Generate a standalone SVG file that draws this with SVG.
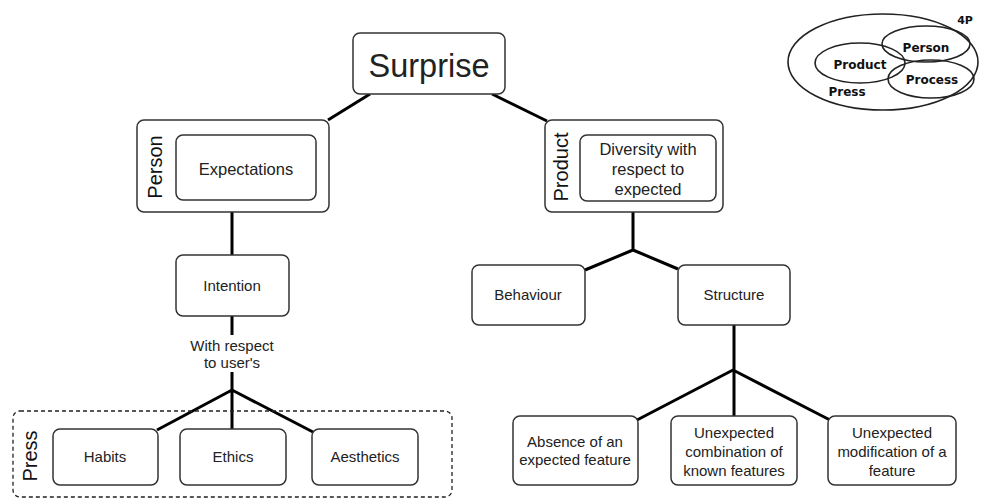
<svg xmlns="http://www.w3.org/2000/svg" width="981" height="499" viewBox="0 0 981 499">
<style>
.box{fill:#fff;stroke:#333;stroke-width:1.5}
.t{font-family:"Liberation Sans",Arial,sans-serif;font-size:15px;fill:#222;text-anchor:middle}
.lab{font-family:"Liberation Sans",Arial,sans-serif;font-size:20px;fill:#111;text-anchor:middle}
.con{stroke:#000;stroke-width:3;fill:none;stroke-linejoin:round}
.ell{fill:none;stroke:#222;stroke-width:1.6}
.v{font-family:"DejaVu Sans",Verdana,sans-serif;font-weight:bold;font-size:12px;fill:#111;text-anchor:middle}
</style>
<rect width="981" height="499" fill="#fff"/>
<g id="connectors">
<path class="con" d="M370,94 L328,120"/>
<path class="con" d="M492,94 L547,121"/>
<path class="con" d="M232,212 L232,255"/>
<path class="con" d="M232,316 L232,335"/>
<path class="con" d="M232,372 L232,430 M157,430 L232,390 L313,432"/>
<path class="con" d="M633,212 L633,250 M585,270 L633,250 L678,269"/>
<path class="con" d="M734,325 L734,417 M637,420 L733,370 L830,420"/>
</g>
<g id="surprise">
<rect class="box" x="353" y="33" width="152" height="61" rx="7"/>
<text class="t" x="429" y="77" style="font-size:32.5px">Surprise</text>
</g>
<g id="person">
<rect class="box" x="137" y="120" width="192" height="92" rx="7"/>
<text class="lab" transform="translate(162,167) rotate(-90)">Person</text>
</g>
<g id="expectations">
<rect class="box" x="176" y="135" width="140" height="65" rx="7"/>
<text class="t" x="246" y="175" style="font-size:16.5px">Expectations</text>
</g>
<g id="product">
<rect class="box" x="545" y="120" width="178" height="92" rx="7"/>
<text class="lab" transform="translate(568,167) rotate(-90)">Product</text>
</g>
<g id="diversity">
<rect class="box" x="580" y="135" width="136" height="66" rx="7"/>
<text class="t" style="font-size:16.5px"><tspan x="648" y="155">Diversity with</tspan><tspan x="648" y="175">respect to</tspan><tspan x="648" y="195">expected</tspan></text>
</g>
<g id="intention">
<rect class="box" x="176" y="255" width="113" height="61" rx="7"/>
<text class="t" x="232" y="291">Intention</text>
</g>
<g id="withrespect">
<text class="t"><tspan x="232" y="351">With respect</tspan><tspan x="232" y="368">to user's</tspan></text>
</g>
<g id="press">
<rect x="13" y="411" width="439" height="86" rx="7" fill="none" stroke="#222" stroke-width="1.3" stroke-dasharray="4,3"/>
<text class="lab" transform="translate(37,456) rotate(-90)">Press</text>
</g>
<g id="habits">
<rect class="box" x="53" y="429" width="105" height="56" rx="7"/>
<text class="t" x="105" y="462">Habits</text>
</g>
<g id="ethics">
<rect class="box" x="180" y="429" width="106" height="56" rx="7"/>
<text class="t" x="233" y="462">Ethics</text>
</g>
<g id="aesthetics">
<rect class="box" x="312" y="429" width="106" height="56" rx="7"/>
<text class="t" x="365" y="462">Aesthetics</text>
</g>
<g id="behaviour">
<rect class="box" x="472" y="265" width="113" height="60" rx="7"/>
<text class="t" x="528" y="300">Behaviour</text>
</g>
<g id="structure">
<rect class="box" x="678" y="265" width="112" height="60" rx="7"/>
<text class="t" x="734" y="300">Structure</text>
</g>
<g id="absence">
<rect class="box" x="513" y="416" width="125" height="69" rx="7"/>
<text class="t"><tspan x="575" y="447">Absence of an</tspan><tspan x="575" y="465">expected feature</tspan></text>
</g>
<g id="combination">
<rect class="box" x="671" y="416" width="126" height="69" rx="7"/>
<text class="t"><tspan x="734" y="438">Unexpected</tspan><tspan x="734" y="457">combination of</tspan><tspan x="734" y="476">known features</tspan></text>
</g>
<g id="modification">
<rect class="box" x="828" y="416" width="128" height="69" rx="7"/>
<text class="t"><tspan x="892" y="438">Unexpected</tspan><tspan x="892" y="457">modification of a</tspan><tspan x="892" y="476">feature</tspan></text>
</g>
<g id="fourP">
<ellipse class="ell" cx="883" cy="62" rx="95" ry="48"/>
<ellipse class="ell" cx="926" cy="44" rx="44" ry="18"/>
<ellipse class="ell" cx="860" cy="63" rx="45" ry="20"/>
<ellipse class="ell" cx="931" cy="79" rx="43" ry="19"/>
<text class="v" x="965" y="24" style="font-size:11px">4P</text>
<text class="v" x="926" y="52">Person</text>
<text class="v" x="860" y="69">Product</text>
<text class="v" x="932" y="84">Process</text>
<text class="v" x="847" y="96">Press</text>
</g>
</svg>
